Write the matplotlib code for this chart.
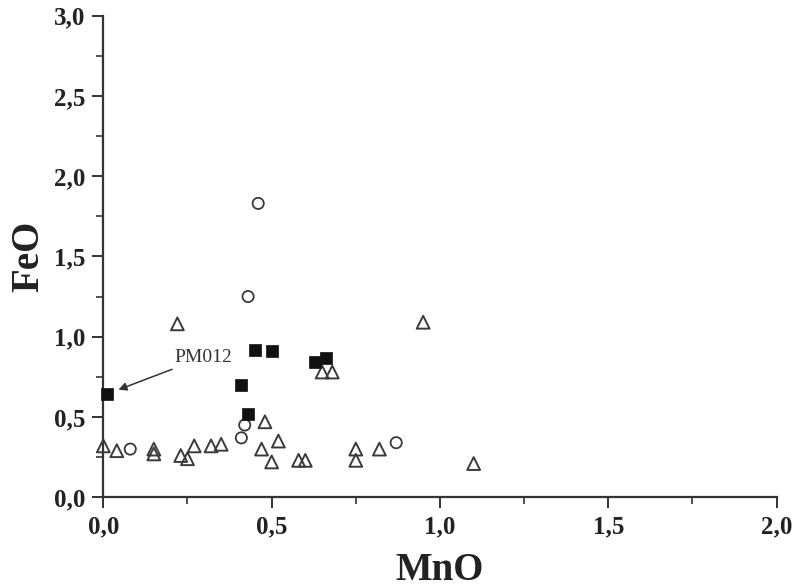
import numpy as np
import matplotlib.pyplot as plt
from matplotlib.ticker import MultipleLocator

plt.rcParams.update({
    "font.family": "Liberation Serif",
    "font.weight": "bold",
})

# ===========================
# Data
# ===========================

# filled squares
mno_sq = np.array([0.01, 0.41, 0.45, 0.50, 0.43, 0.63, 0.66])
feo_sq = np.array([0.64, 0.70, 0.92, 0.91, 0.52, 0.84, 0.87])

# open circles
mno_ci = np.array([0.46, 0.43, 0.42, 0.41, 0.08, 0.87])
feo_ci = np.array([1.83, 1.25, 0.45, 0.37, 0.30, 0.34])

# open triangles
mno_tr = np.array([0.00, 0.04, 0.15, 0.15, 0.23, 0.25, 0.27, 0.32, 0.35,
                   0.22, 0.48, 0.47, 0.50, 0.52, 0.58, 0.60, 0.65, 0.68,
                   0.75, 0.75, 0.82, 0.95, 1.10])
feo_tr = np.array([0.32, 0.29, 0.30, 0.27, 0.26, 0.24, 0.32, 0.32, 0.33,
                   1.08, 0.47, 0.30, 0.22, 0.35, 0.23, 0.23, 0.78, 0.78,
                   0.30, 0.23, 0.30, 1.09, 0.21])

label_pt = (0.01, 0.64)
label_txt = "PM012"

# ===========================
# Plot
# ===========================
fig = plt.figure(figsize=(7.96, 5.88), dpi=100)
ax = fig.add_axes([0.1298, 0.1543, 0.8459, 0.8193])

edge = "#3a3a3a"
ax.scatter(mno_tr, feo_tr, marker="^", s=85, facecolors="none",
           edgecolors=edge, linewidths=1.4, clip_on=False, zorder=3)
ax.scatter(mno_ci, feo_ci, marker="o", s=65, facecolors="none",
           edgecolors=edge, linewidths=1.3, clip_on=False, zorder=3)
ax.scatter(mno_sq, feo_sq, marker="s", s=75, facecolors="#111111",
           edgecolors="#111111", linewidths=0.5, clip_on=False, zorder=4)

ax.annotate(label_txt, xy=(label_pt[0] + 0.035, label_pt[1] + 0.03),
            xytext=(0.21, 0.87), fontsize=14, fontweight="normal",
            color="#333333", va="center", ha="left",
            arrowprops=dict(arrowstyle="-|>", color="#333333", lw=1.1,
                            mutation_scale=12, shrinkA=1, shrinkB=0))

ax.set_xlim(0, 2.0)
ax.set_ylim(0, 3.0)
ax.xaxis.set_major_locator(MultipleLocator(0.5))
ax.xaxis.set_minor_locator(MultipleLocator(0.25))
ax.yaxis.set_major_locator(MultipleLocator(0.5))
ax.yaxis.set_minor_locator(MultipleLocator(0.25))

fmt = lambda v, pos: f"{v:.1f}".replace(".", ",")
ax.xaxis.set_major_formatter(plt.FuncFormatter(fmt))
ax.yaxis.set_major_formatter(plt.FuncFormatter(fmt))

for side in ["top", "right"]:
    ax.spines[side].set_visible(False)
for side in ["left", "bottom"]:
    ax.spines[side].set_linewidth(1.6)
    ax.spines[side].set_color("#333333")

ax.tick_params(which="major", direction="out", length=8, width=1.4,
               color="#333333", labelsize=18, pad=5, labelcolor="#222222")
ax.tick_params(which="minor", direction="out", length=5, width=1.2,
               color="#333333")

ax.set_xlabel("MnO", fontsize=28, fontweight="bold", color="#222222",
              labelpad=10)
ax.set_ylabel("FeO", fontsize=28, fontweight="bold", color="#222222",
              labelpad=5)

plt.savefig("out.png", dpi=100)
